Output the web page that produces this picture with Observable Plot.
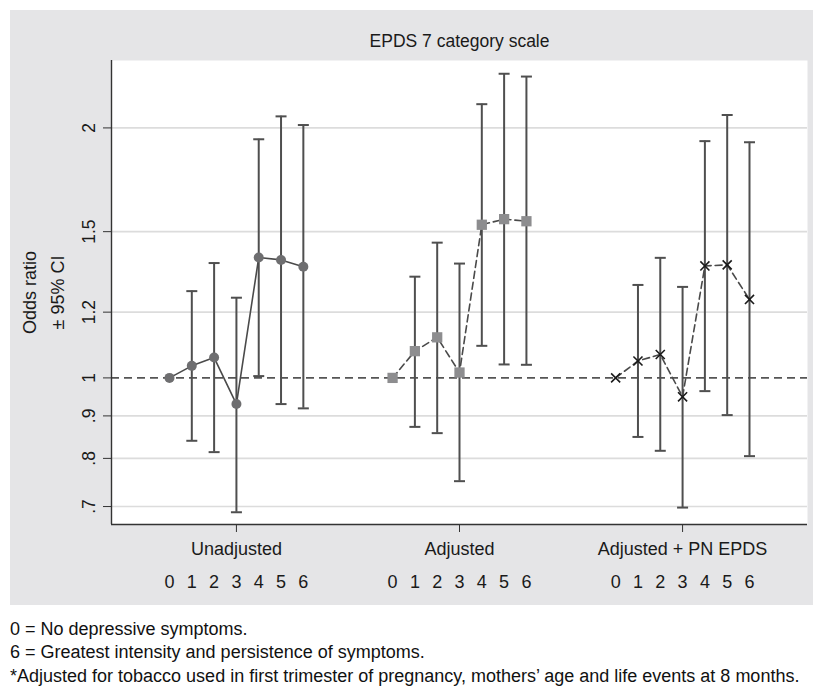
<!DOCTYPE html>
<html>
<head>
<meta charset="utf-8">
<script src="https://cdn.jsdelivr.net/npm/d3@7"></script>
<script src="https://cdn.jsdelivr.net/npm/@observablehq/plot@0.6"></script>
<style>
  html, body { margin: 0; padding: 0; background: #ffffff; overflow: hidden; }
  #wrap { position: relative; width: 813px; height: 687px; overflow: hidden; }
  #chart { position: absolute; left: 10px; top: 10px; }
  #caption { position: absolute; left: 10px; top: 618px; font-family: "Liberation Sans", Arial, sans-serif;
    font-size: 18px; line-height: 23.3px; color: #111; white-space: nowrap; }
</style>
</head>
<body>
<div id="wrap">
  <div id="chart"></div>
  <div id="caption">
    <div>0 = No depressive symptoms.</div>
    <div>6 = Greatest intensity and persistence of symptoms.</div>
    <div>*Adjusted for tobacco used in first trimester of pregnancy, mothers’ age and life events at 8 months.</div>
  </div>
</div>
<script>
// ---- data ----
const titleText = "EPDS 7 category scale";
const yLabelLines = ["Odds ratio", "± 95% CI"];
const groups = ["Unadjusted", "Adjusted", "Adjusted + PN EPDS"];
const categories = [0, 1, 2, 3, 4, 5, 6];

const orUnadj = [1.000, 1.034, 1.058, 0.930, 1.396, 1.387, 1.361];
const loUnadj = [null, 0.840, 0.814, 0.689, 1.005, 0.930, 0.919];
const hiUnadj = [null, 1.272, 1.375, 1.249, 1.938, 2.065, 2.016];

const orAdj = [1.000, 1.077, 1.119, 1.015, 1.529, 1.553, 1.544];
const loAdj = [null, 0.873, 0.858, 0.751, 1.093, 1.038, 1.037];
const hiAdj = [null, 1.324, 1.455, 1.373, 2.136, 2.324, 2.306];

const orPN = [1.000, 1.048, 1.067, 0.949, 1.364, 1.368, 1.243];
const loPN = [null, 0.849, 0.817, 0.698, 0.964, 0.902, 0.805];
const hiPN = [null, 1.294, 1.395, 1.287, 1.928, 2.073, 1.922];

const yTicks = [0.7, 0.8, 0.9, 1, 1.2, 1.5, 2];
const yTickLabels = [".7", ".8", ".9", "1", "1.2", "1.5", "2"];

// ---- table ----
const series = [
  [orUnadj, loUnadj, hiUnadj],
  [orAdj, loAdj, hiAdj],
  [orPN, loPN, hiPN]
];
const rows = [];
series.forEach(([or, lo, hi], g) => {
  categories.forEach((c, i) => {
    rows.push({group: groups[g], g, cat: c, u: g * 10 + c, or: or[i], lo: lo[i], hi: hi[i]});
  });
});
const ciRows = rows.filter(d => d.lo != null);
const groupCenters = groups.map((d, g) => ({name: d, u: g * 10 + 3}));

const xDomain = [-2.6, 28.6];
const yDomain = [0.666, 2.411];

const capSymbol = {
  draw(context, size) {
    const r = Math.sqrt(size / Math.PI);
    context.moveTo(-r, 0);
    context.lineTo(r, 0);
  }
};

const FONT = "'Liberation Sans', Arial, Helvetica, sans-serif";
const ink = "#4f4f4f";

const chart = Plot.plot({
  width: 803,
  height: 595,
  marginLeft: 101,
  marginRight: 6,
  marginTop: 50,
  marginBottom: 81,
  style: {background: "#e5e5e7", fontFamily: FONT, fontSize: "17px", color: "#1a1a1a", overflow: "visible"},
  x: {domain: xDomain, axis: null},
  y: {type: "log", domain: yDomain, axis: null},
  marks: [
    Plot.frame({fill: "white", stroke: "none"}),
    Plot.gridY(yTicks.filter(d => d !== 1), {stroke: "#dcdcdc", strokeOpacity: 1, strokeWidth: 1.6}),
    Plot.ruleY([1], {stroke: "#555", strokeWidth: 1.8, strokeDasharray: "8,5"}),
    // axis lines
    Plot.ruleX([xDomain[0]], {stroke: "#333", strokeWidth: 1.4}),
    Plot.ruleY([yDomain[0]], {stroke: "#333", strokeWidth: 1.4}),
    // y ticks and labels
    Plot.axisY(yTicks, {tickSize: 8, tickFormat: () => "", label: null, stroke: "#333"}),
    Plot.text(yTicks, {y: d => d, text: (d, i) => yTickLabels[i], frameAnchor: "left", rotate: -90,
      dx: -22, textAnchor: "middle", lineAnchor: "middle", fontSize: 17.5, fill: "#1a1a1a"}),
    // y label
    Plot.text([yLabelLines[0]], {text: d => d, frameAnchor: "left", rotate: -90, dx: -81,
      textAnchor: "middle", lineAnchor: "middle", fontSize: 18, fill: "#1a1a1a"}),
    Plot.text([yLabelLines[1]], {text: d => d, frameAnchor: "left", rotate: -90, dx: -53,
      textAnchor: "middle", lineAnchor: "middle", fontSize: 18, fill: "#1a1a1a"}),
    // x ticks and labels
    Plot.axisX(groupCenters.map(d => d.u), {tickSize: 8, tickFormat: () => "", label: null, stroke: "#333"}),
    Plot.text(groupCenters, {x: "u", text: "name", frameAnchor: "bottom", dy: 25,
      lineAnchor: "middle", fontSize: 18, fill: "#1a1a1a"}),
    Plot.text(rows, {x: "u", text: d => String(d.cat), frameAnchor: "bottom", dy: 58,
      lineAnchor: "middle", fontSize: 18, fill: "#1a1a1a"}),
    // title
    Plot.text([titleText], {text: d => d, frameAnchor: "top", dy: -19, lineAnchor: "middle",
      fontSize: 17.5, fill: "#1a1a1a"}),
    // error bars
    Plot.ruleX(ciRows, {x: "u", y1: "lo", y2: "hi", stroke: ink, strokeWidth: 2}),
    Plot.dot(ciRows, {x: "u", y: "lo", symbol: capSymbol, r: 5.5, stroke: ink, strokeWidth: 2, fill: "none"}),
    Plot.dot(ciRows, {x: "u", y: "hi", symbol: capSymbol, r: 5.5, stroke: ink, strokeWidth: 2, fill: "none"}),
    // connecting lines
    Plot.line(rows.filter(d => d.g === 0), {x: "u", y: "or", stroke: "#4a4a4a", strokeWidth: 1.6}),
    Plot.line(rows.filter(d => d.g === 1), {x: "u", y: "or", stroke: "#4a4a4a", strokeWidth: 1.6, strokeDasharray: "7,4"}),
    Plot.line(rows.filter(d => d.g === 2), {x: "u", y: "or", stroke: "#4a4a4a", strokeWidth: 1.6, strokeDasharray: "7,4"}),
    // markers
    Plot.dot(rows.filter(d => d.g === 0), {x: "u", y: "or", r: 5, fill: "#6e6e70", stroke: "none"}),
    Plot.dot(rows.filter(d => d.g === 1), {x: "u", y: "or", symbol: "square", r: 5.8, fill: "#8d8d8f", stroke: "none"}),
    Plot.dot(rows.filter(d => d.g === 2), {x: "u", y: "or", symbol: "times", r: 4.2, stroke: "#1a1a1a", strokeWidth: 1.6, fill: "none"})
  ]
});
document.getElementById("chart").appendChild(chart);
</script>
</body>
</html>
